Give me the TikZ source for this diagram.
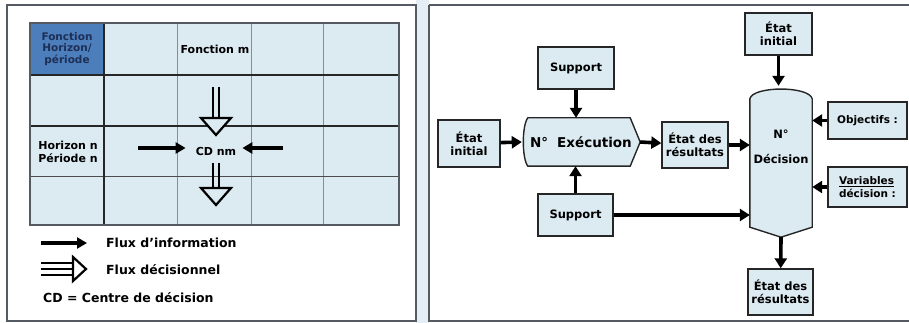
\documentclass[tikz,border=0pt]{standalone}
\usepackage{fontspec}
\setmainfont{DejaVu Sans}
\usetikzlibrary{arrows.meta}
\definecolor{fondbleu}{HTML}{DCEAF2}
\definecolor{bleufonce}{HTML}{4C7EBC}
\definecolor{textebleu}{HTML}{1E2F55}
\definecolor{bordgris}{HTML}{555B63}
\definecolor{fente}{HTML}{E6EEF5}

\begin{document}
\begin{tikzpicture}[x=1pt, y=-1pt,
    info/.style={line width=3.2pt, -{Triangle[length=10pt,width=11pt]}},
    flux/.style={line width=3.6pt, -{Triangle[length=10pt,width=12pt]}},
    cadre/.style={draw=bordgris, line width=1.2pt},
    grille/.style={draw=black!45, line width=0.5pt},
    trait/.style={draw=black!85, line width=1.6pt},
    txt/.style={font=\bfseries\fontsize{11}{13}\selectfont, align=center, inner sep=0pt},
    legende/.style={font=\bfseries\fontsize{12.5}{14}\selectfont, anchor=west, inner sep=0pt},
    boite/.style={draw=black!85, line width=1.4pt, fill=fondbleu, align=center,
        font=\bfseries\fontsize{11.5}{13}\selectfont, inner sep=1pt},
    forme/.style={draw=black!85, line width=1.4pt, fill=fondbleu},
    creux/.style={draw=black, line width=2.2pt, fill=fondbleu, line join=miter}]

\useasboundingbox (0,0) rectangle (909,323);

% panneaux
\fill[fente] (416,0) rectangle (429,323);
\draw[cadre] (7,5) rectangle (416,321);
\draw[cadre] (429,5) -- (912,5);
\draw[cadre] (429,5) -- (429,321) -- (912,321);

% tableau
\fill[fondbleu] (30,23) rectangle (399,225);
\fill[bleufonce] (30,23) rectangle (104,75);
\foreach \x in {177,251,323}
    \draw[grille] (\x,23) -- (\x,225);
\draw[draw=black!70, line width=0.8pt] (30,176) -- (399,176);
\draw[trait] (30,75) -- (399,75);
\draw[trait] (30,126) -- (399,126);
\draw[trait] (104,23) -- (104,225);
\draw[draw=bordgris, line width=1.2pt] (30,23) rectangle (399,225);

\node[txt, text=textebleu, font=\bfseries\fontsize{10.5}{11.5}\selectfont] (coin) at (67,49) {Fonction\\Horizon/\\période};
\node[txt] (fct) at (215,49) {Fonction m};
\node[txt] (hp) at (68,152) {Horizon n\\Période n};
\node[txt] (cd) at (216,151) {CD nm};

\coordinate (cdg) at (138,148);
\coordinate (cdd) at (283,148);
\draw[info] (cdg) -- ([xshift=-10pt]cdg -| cd.west);
\draw[info] (cdd) -- ([xshift=6pt]cdd -| cd.east);

% flux decisionnels
\foreach \ya/\yb/\yc in {87/118/135, 163/188/205}{
    \draw[line width=2pt] (213,\ya) -- (213,\yb) (219,\ya) -- (219,\yb);
    \draw[creux] (201,\yb) -- (231,\yb) -- (216,\yc) -- cycle;
}

% legende
\coordinate (la) at (41,243);
\coordinate (lb) at (87,243);
\draw[info] (la) -- (lb);
\node[legende] (fi) at (106,243) {Flux d'information};
\draw[line width=1.8pt] (41,263) -- (73,263) (41,269) -- (73,269) (41,275) -- (73,275);
\draw[creux, fill=white] (73,257) -- (86,269) -- (73,281) -- cycle;
\node[legende] (fd) at (106,270) {Flux décisionnel};
\node[legende] (cdl) at (43,298) {CD = Centre de décision};

% execution
\node[boite, minimum width=62pt, minimum height=47pt] (ei1) at (469,143.5) {État\\initial};
\node[boite, minimum width=76pt, minimum height=42pt] (sup1) at (576,68) {Support};
\node[boite, minimum width=75pt, minimum height=42pt] (sup2) at (575.5,215) {Support};
\node[minimum width=118pt, minimum height=48pt, inner sep=0pt] (exe) at (581,142) {};
\draw[forme] ([xshift=6pt]exe.north west) -- ([xshift=-10pt]exe.north east) -- (exe.east)
    -- ([xshift=-10pt]exe.south east) -- ([xshift=6pt]exe.south west)
    .. controls ([yshift=8pt]exe.south west) and ([yshift=-8pt]exe.north west)
    .. ([xshift=6pt]exe.north west) -- cycle;
\node[txt, font=\bfseries\fontsize{13.5}{15}\selectfont] (exet) at (581,142) {N°\hspace{9pt}Exécution};
\node[boite, minimum width=66pt, minimum height=46pt] (er1) at (695,145) {État des\\résultats};

% decision
\node[minimum width=62pt, minimum height=151pt, inner sep=0pt] (dec) at (781,161.5) {};
\draw[forme] ([yshift=-13pt]dec.north west) .. controls ([xshift=3pt]dec.north west) and ([xshift=-3pt]dec.north east)
    .. ([yshift=-13pt]dec.north east) -- ([yshift=10pt]dec.south east) -- (dec.south)
    -- ([yshift=10pt]dec.south west) -- cycle;
\node[txt, font=\bfseries\fontsize{11.5}{13}\selectfont] (dect) at (781,147) {N°\\[12pt]Décision};
\node[boite, minimum width=67pt, minimum height=42pt] (ei2) at (778.5,34) {État\\initial};
\node[boite, minimum width=79pt, minimum height=37pt, font=\bfseries\fontsize{10.5}{12.5}\selectfont] (obj) at (867.5,120.5) {Objectifs :};
\node[boite, minimum width=79pt, minimum height=40pt, align=left, font=\bfseries\fontsize{10.5}{12.5}\selectfont] (var) at (867.5,187) {\underline{Variables}\\décision :};
\node[boite, minimum width=65pt, minimum height=46pt] (er2) at (780.5,292) {État des\\résultats};

\draw[flux] (ei1) -- (exe.west);
\draw[flux] (sup1) -- (sup1 |- exe.north);
\draw[flux] (sup2) -- (sup2 |- exe.south);
\draw[flux] (exe.east) -- (er1);
\draw[flux] (er1) -- (er1 -| dec.west);
\draw[flux] (sup2) -- (sup2 -| dec.west);
\draw[flux] (ei2) -- (ei2 |- dec.north);
\draw[flux] (obj) -- (obj -| dec.east);
\draw[flux] (var) -- (var -| dec.east);
\draw[flux] (dec.south) -- (er2);

\end{tikzpicture}
\end{document}
